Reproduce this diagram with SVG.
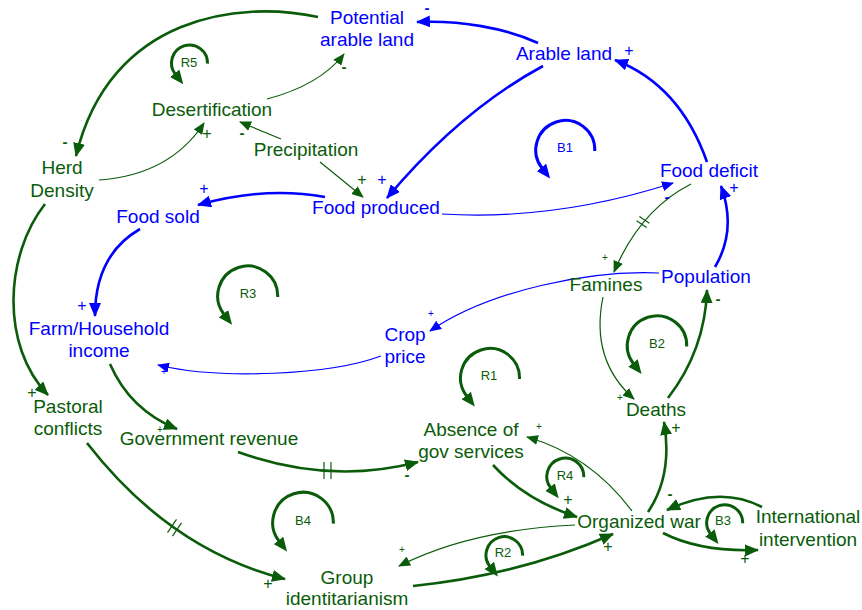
<svg xmlns="http://www.w3.org/2000/svg" width="862" height="610" viewBox="0 0 862 610">
<style>
text{font-family:"Liberation Sans",Arial,sans-serif}
.n{font-size:19px;text-anchor:middle}
.G{fill:#0a5c0a}
.B{fill:#0000ff}
.lg{fill:none;stroke:#0a5c0a}
.lb{fill:none;stroke:#0000ff}
.tk{stroke-width:2.6}
.tn{stroke-width:1.2}
.lp{fill:none;stroke-width:3}
.ll{font-size:13px;text-anchor:middle}
.p{font-size:16px;text-anchor:middle}
.m{font-size:15px;font-weight:bold;text-anchor:middle}
.s{font-size:10px;text-anchor:middle}
</style>
<defs>
<marker id="ag" markerUnits="userSpaceOnUse" markerWidth="14" markerHeight="12" viewBox="0 0 14 12" refX="13" refY="6" orient="auto"><path d="M0,0 L14,6 L0,12 z" fill="#0a5c0a"/></marker>
<marker id="ab" markerUnits="userSpaceOnUse" markerWidth="14" markerHeight="12" viewBox="0 0 14 12" refX="13" refY="6" orient="auto"><path d="M0,0 L14,6 L0,12 z" fill="#0000ff"/></marker>
<marker id="ags" markerUnits="userSpaceOnUse" markerWidth="12" markerHeight="10" viewBox="0 0 12 10" refX="11" refY="5" orient="auto"><path d="M0,0 L12,5 L0,10 z" fill="#0a5c0a"/></marker>
<marker id="abs" markerUnits="userSpaceOnUse" markerWidth="12" markerHeight="10" viewBox="0 0 12 10" refX="11" refY="5" orient="auto"><path d="M0,0 L12,5 L0,10 z" fill="#0000ff"/></marker>
<marker id="lg" markerUnits="userSpaceOnUse" markerWidth="14" markerHeight="12" viewBox="0 0 14 12" refX="1" refY="6" orient="auto"><path d="M0,0 L14,6 L0,12 z" fill="#0a5c0a"/></marker>
<marker id="lb" markerUnits="userSpaceOnUse" markerWidth="14" markerHeight="12" viewBox="0 0 14 12" refX="1" refY="6" orient="auto"><path d="M0,0 L14,6 L0,12 z" fill="#0000ff"/></marker>
</defs>

<g id="connectors">
<path class="lb tk" d="M538,43 C505,28 460,20 417,22" marker-end="url(#ab)"/>
<path class="lb tk" d="M543,66 C495,92 440,135 387,198" marker-end="url(#ab)"/>
<path class="lb tk" d="M707,162 Q680,85 615,60" marker-end="url(#ab)"/>
<path class="lb tn" d="M442,214 C540,220 620,200 673,183" marker-end="url(#abs)"/>
<path class="lb tk" d="M325,197 Q265,186 198,205" marker-end="url(#ab)"/>
<path class="lb tk" d="M140,229 Q95,255 95,316" marker-end="url(#ab)"/>
<path class="lb tk" d="M715,267 Q737,230 721,186" marker-end="url(#ab)"/>
<path class="lb tn" d="M659,273 C590,270 490,290 430,331" marker-end="url(#abs)"/>
<path class="lb tn" d="M381,356 C330,375 220,380 158,365" marker-end="url(#abs)"/>
<path class="lg tn" d="M691,184 Q640,210 614,272" marker-end="url(#ags)"/>
<path class="lg tn" d="M639.4,216.6 L649.4,223.2 M636.6,220.8 L646.6,227.4"/>
<path class="lg tn" d="M603,297 Q590,360 634,399" marker-end="url(#ags)"/>
<path class="lg tk" d="M668,398 Q705,350 707,290" marker-end="url(#ag)"/>
<path class="lg tk" d="M648,512 Q673,475 664,422" marker-end="url(#ag)"/>
<path class="lg tn" d="M632,511 Q590,455 527,437" marker-end="url(#ags)"/>
<path class="lg tk" d="M493,465 Q525,500 577,517" marker-end="url(#ag)"/>
<path class="lg tk" d="M238,452 Q330,485 418,462" marker-end="url(#ag)"/>
<path class="lg tn" d="M324,462 L324,479 M331,462 L331,479"/>
<path class="lg tk" d="M110,364 Q130,410 177,429" marker-end="url(#ag)"/>
<path class="lg tk" d="M45,204 C5,255 0,345 48,395" marker-end="url(#ag)"/>
<path class="lg tk" d="M318,17 C240,0 110,15 76,156" marker-end="url(#ag)"/>
<path class="lg tn" d="M99,180 Q170,175 204,123" marker-end="url(#ags)"/>
<path class="lg tn" d="M267,99 Q320,85 344,54" marker-end="url(#ags)"/>
<path class="lg tn" d="M281,139 L240,122" marker-end="url(#ags)"/>
<path class="lg tn" d="M320,162 L363,197" marker-end="url(#ags)"/>
<path class="lg tk" d="M87,443 Q170,550 285,579" marker-end="url(#ag)"/>
<path class="lg tn" d="M167.5,532.6 L176.5,519.4 M172.5,536.1 L181.5,522.9"/>
<path class="lg tk" d="M413,586 Q520,575 613,534" marker-end="url(#ag)"/>
<path class="lg tn" d="M575,525 Q470,530 399,566" marker-end="url(#ags)"/>
<path class="lg tk" d="M663,533 Q700,552 758,550" marker-end="url(#ag)"/>
<path class="lg tk" d="M762,507 Q720,485 667,510" marker-end="url(#ag)"/>
</g>

<g id="polarities">
<text class="m B" x="427" y="13">-</text>
<text class="p B" x="629" y="56">+</text>
<text class="m G" x="344" y="72">-</text>
<text class="m G" x="65" y="147">-</text>
<text class="p G" x="207" y="139">+</text>
<text class="m G" x="242" y="138">-</text>
<text class="p G" x="362" y="185">+</text>
<text class="p B" x="382" y="185">+</text>
<text class="p B" x="204" y="194">+</text>
<text class="p B" x="734" y="193">+</text>
<text class="m B" x="667" y="202">-</text>
<text class="p B" x="82" y="311">+</text>
<text class="s B" x="431" y="316.5">+</text>
<text class="s G" x="605" y="260.5">+</text>
<text class="s B" x="164" y="374.5">+</text>
<text class="m G" x="718" y="304">-</text>
<text class="p G" x="32" y="398">+</text>
<text class="s G" x="620" y="400.5">+</text>
<text class="s G" x="160" y="433">+</text>
<text class="p G" x="676" y="433">+</text>
<text class="s G" x="539" y="429.5">+</text>
<text class="m G" x="407" y="480">-</text>
<text class="p G" x="568" y="505">+</text>
<text class="m G" x="670" y="499">-</text>
<text class="p G" x="608" y="552">+</text>
<text class="s G" x="402" y="552.5">+</text>
<text class="p G" x="268" y="589">+</text>
<text class="p G" x="745" y="564">+</text>
</g>

<g id="loops">
<g id="loop-R5"><path class="lp" stroke="#0a5c0a" d="M207.5,63.6 A18,18 0 1 0 175.3,74.1" marker-end="url(#lg)"/><text class="ll G" x="189" y="66.6">R5</text></g>
<g id="loop-B1"><path class="lp" stroke="#0000ff" d="M594.8,151 A29.5,29.5 0 1 0 542.1,168.2" marker-end="url(#lb)"/><text class="ll B" x="565" y="151.6">B1</text></g>
<g id="loop-R3"><path class="lp" stroke="#0a5c0a" d="M277.7,297 A30,30 0 1 0 224.1,314.5" marker-end="url(#lg)"/><text class="ll G" x="248" y="298">R3</text></g>
<g id="loop-R1"><path class="lp" stroke="#0a5c0a" d="M519.5,379 A29.5,29.5 0 1 0 466.8,396.2" marker-end="url(#lg)"/><text class="ll G" x="489" y="379.6">R1</text></g>
<g id="loop-B2"><path class="lp" stroke="#0a5c0a" d="M686.7,346.5 A29.7,29.7 0 1 0 633.6,363.8" marker-end="url(#lg)"/><text class="ll G" x="657" y="348">B2</text></g>
<g id="loop-R4"><path class="lp" stroke="#0a5c0a" d="M583.8,477.1 A18.5,18.5 0 1 0 550.7,487.9" marker-end="url(#lg)"/><text class="ll G" x="565" y="479.6">R4</text></g>
<g id="loop-R2"><path class="lp" stroke="#0a5c0a" d="M522.6,555.6 A18.3,18.3 0 1 0 489.9,566.3" marker-end="url(#lg)"/><text class="ll G" x="503" y="557.3">R2</text></g>
<g id="loop-B3"><path class="lp" stroke="#0a5c0a" d="M742.7,523.3 A18,18 0 1 0 710.5,533.8" marker-end="url(#lg)"/><text class="ll G" x="723" y="524.6">B3</text></g>
<g id="loop-B4"><path class="lp" stroke="#0a5c0a" d="M333.3,523.6 A30.3,30.3 0 1 0 279.1,541.2" marker-end="url(#lg)"/><text class="ll G" x="303" y="524.6">B4</text></g>
</g>

<g id="potential-arable-land"><text class="n B" x="367" y="24">Potential</text><text class="n B" x="367" y="46">arable land</text></g>
<g id="arable-land"><text class="n B" x="564" y="60">Arable land</text></g>
<g id="desertification"><text class="n G" x="212" y="116">Desertification</text></g>
<g id="precipitation"><text class="n G" x="306" y="156">Precipitation</text></g>
<g id="herd-density"><text class="n G" x="62" y="174">Herd</text><text class="n G" x="62" y="197">Density</text></g>
<g id="food-produced"><text class="n B" x="376" y="214">Food produced</text></g>
<g id="food-sold"><text class="n B" x="158" y="223">Food sold</text></g>
<g id="food-deficit"><text class="n B" x="709" y="177">Food deficit</text></g>
<g id="population"><text class="n B" x="706" y="283">Population</text></g>
<g id="famines"><text class="n G" x="606" y="291">Famines</text></g>
<g id="farm-household-income"><text class="n B" x="99" y="335">Farm/Household</text><text class="n B" x="99" y="357">income</text></g>
<g id="crop-price"><text class="n B" x="405" y="341">Crop</text><text class="n B" x="405" y="363">price</text></g>
<g id="pastoral-conflicts"><text class="n G" x="68" y="413">Pastoral</text><text class="n G" x="68" y="435">conflicts</text></g>
<g id="government-revenue"><text class="n G" x="209" y="445">Government revenue</text></g>
<g id="absence-of-gov-services"><text class="n G" x="471" y="436">Absence of</text><text class="n G" x="471" y="458">gov services</text></g>
<g id="deaths"><text class="n G" x="656" y="416">Deaths</text></g>
<g id="organized-war"><text class="n G" x="639" y="528">Organized war</text></g>
<g id="international-intervention"><text class="n G" x="808" y="523">International</text><text class="n G" x="808" y="546">intervention</text></g>
<g id="group-identitarianism"><text class="n G" x="347" y="584">Group</text><text class="n G" x="347" y="605">identitarianism</text></g>
</svg>
